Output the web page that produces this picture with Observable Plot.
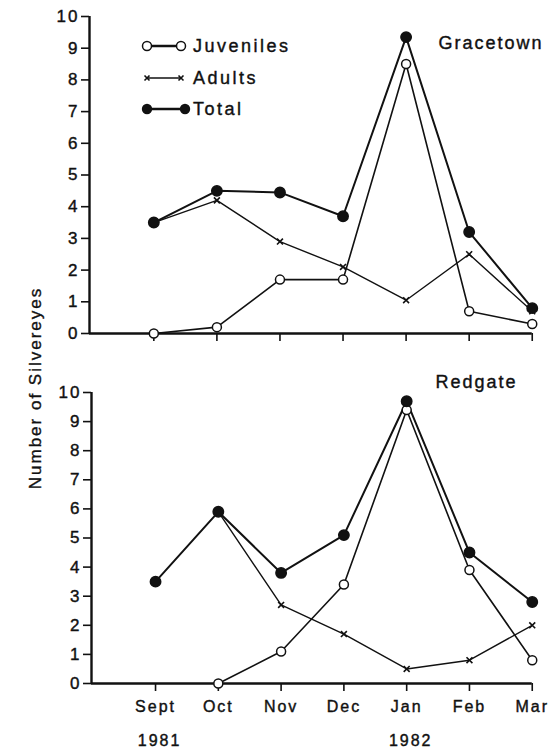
<!DOCTYPE html>
<html>
<head>
<meta charset="utf-8">
<script src="https://cdn.jsdelivr.net/npm/d3@7"></script>
<script src="https://cdn.jsdelivr.net/npm/@observablehq/plot@0.6"></script>
<style>
  html, body { margin: 0; padding: 0; background: #fff; }
  #wrap { position: relative; width: 548px; height: 751px; font-family: "Liberation Sans", Arial, Helvetica, sans-serif; }
  #wrap svg { display: block; }
  #wrap text { stroke: #111; stroke-width: 0.4px; }
  .ylab { position: absolute; left: 36px; top: 388px; transform: translate(-50%, -50%) rotate(-90deg);
          white-space: nowrap; font-size: 17px; letter-spacing: 2px; color: #111; -webkit-text-stroke: 0.35px #111; }
  #legend { position: absolute; left: 0; top: 0; }
</style>
</head>
<body>
<div id="wrap">
  <div id="topPanel"></div>
  <div id="bottomPanel"></div>
  <div class="ylab">Number of Silvereyes</div>
</div>
<script>
// ---- data ----
const months = ["Sept", "Oct", "Nov", "Dec", "Jan", "Feb", "Mar"];
const years = ["1981", "1982"];
const yearMonthIndex = [0, 4];
const gracetownJuveniles = [0, 0.2, 1.7, 1.7, 8.5, 0.7, 0.3];
const gracetownAdults    = [3.5, 4.2, 2.9, 2.1, 1.05, 2.5, 0.7];
const gracetownTotal     = [3.5, 4.5, 4.45, 3.7, 9.35, 3.2, 0.8];
const redgateJuveniles   = [null, 0, 1.1, 3.4, 9.4, 3.9, 0.8];
const redgateAdults      = [null, 5.9, 2.7, 1.7, 0.5, 0.8, 2.0];
const redgateTotal       = [3.5, 5.9, 3.8, 5.1, 9.7, 4.5, 2.8];
const seriesNames = ["Juveniles", "Adults", "Total"];
const yTicks = d3.range(0, 11);

const xMin = -1.02, xMax = 6.02;
const font = '"Liberation Sans", Arial, Helvetica, sans-serif';

function panel({juv, adu, tot, name, height, marginTop, marginBottom, marginLeft, labels, nameDx, nameDy}) {
  const rows = months.map((m, i) => ({i, m, juv: juv[i], adu: adu[i], tot: tot[i]}));
  const marks = [
    Plot.ruleX([xMin], {y1: 0, y2: 10, strokeWidth: 2.4, stroke: "#111"}),
    Plot.ruleY([0], {x1: xMin, x2: 6, strokeWidth: 2.4, stroke: "#111"}),
    Plot.axisY({ticks: yTicks, label: null, tickSize: 8, tickPadding: 2, strokeWidth: 1.6, stroke: "#111", fill: "#111", fontSize: 17}),
    Plot.axisX({ticks: d3.range(7), label: null, tickSize: 8, tickPadding: 9, strokeWidth: 1.6, stroke: "#111", fill: "#111", fontSize: 16,
                tickFormat: labels ? (i => months[i]) : (() => "")}),
    Plot.line(rows, {x: "i", y: "adu", stroke: "#111", strokeWidth: 1.4}),
    Plot.line(rows, {x: "i", y: "juv", stroke: "#111", strokeWidth: 1.6}),
    Plot.line(rows, {x: "i", y: "tot", stroke: "#111", strokeWidth: 2}),
    Plot.dot(rows, {x: "i", y: "adu", symbol: "times", r: 2.8, stroke: "#111", strokeWidth: 1.6}),
    Plot.dot(rows, {x: "i", y: "juv", r: 4.5, fill: "white", stroke: "#111", strokeWidth: 1.5}),
    Plot.dot(rows, {x: "i", y: "tot", r: 5.2, fill: "#111", stroke: "#111"}),
    Plot.text([name], {frameAnchor: "top-right", textAnchor: "end", lineAnchor: "middle", dx: nameDx, dy: nameDy, fontSize: 18, fill: "#111"})
  ];
  if (labels) {
    marks.push(Plot.text(years, {x: (d, k) => yearMonthIndex[k], text: d => d, frameAnchor: "bottom", dy: 57,
      dx: 4, fontSize: 16, fill: "#111", lineAnchor: "middle"}));
  }
  return Plot.plot({
    width: 548, height, marginTop, marginBottom, marginLeft, marginRight: 15,
    x: {domain: [xMin, xMax], axis: null},
    y: {domain: [0, 10], axis: null},
    style: {fontFamily: font, letterSpacing: "2px", color: "#111", background: "white", overflow: "visible"},
    marks
  });
}

const topChart = panel({juv: gracetownJuveniles, adu: gracetownAdults, tot: gracetownTotal, name: "Gracetown",
  height: 360, marginTop: 16, marginBottom: 27, marginLeft: 89, labels: false, nameDx: 10, nameDy: 27});
const bottomChart = panel({juv: redgateJuveniles, adu: redgateAdults, tot: redgateTotal, name: "Redgate",
  height: 391, marginTop: 32, marginBottom: 68, marginLeft: 91, labels: true, nameDx: -16, nameDy: -10});
document.getElementById("topPanel").appendChild(topChart);
document.getElementById("bottomPanel").appendChild(bottomChart);

// legend overlay inside the top panel
const ns = "http://www.w3.org/2000/svg";
const lg = document.createElementNS(ns, "svg");
lg.setAttribute("id", "legend");
lg.setAttribute("width", 300); lg.setAttribute("height", 130);
const rowsY = [46, 78, 109];
function el(tag, attrs) { const e = document.createElementNS(ns, tag); for (const k in attrs) e.setAttribute(k, attrs[k]); lg.appendChild(e); return e; }
seriesNames.forEach((s, k) => {
  const y = rowsY[k];
  const x1 = 147, x2 = k === 2 ? 185 : 181;
  el("line", {x1, x2, y1: y, y2: y, stroke: "#111", "stroke-width": k === 1 ? 1.4 : 2.4});
  if (k === 0) {
    [x1, x2].forEach(x => el("circle", {cx: x, cy: y, r: 4.5, fill: "white", stroke: "#111", "stroke-width": 1.5}));
  } else if (k === 1) {
    [x1, x2].forEach(x => el("path", {d: `M${x-2.5},${y-2.5}L${x+2.5},${y+2.5}M${x-2.5},${y+2.5}L${x+2.5},${y-2.5}`, stroke: "#111", "stroke-width": 1.6}));
  } else {
    [x1, x2].forEach(x => el("circle", {cx: x, cy: y, r: 5.2, fill: "#111"}));
  }
  const t = el("text", {x: 193, y, "dominant-baseline": "central", "font-size": 18, fill: "#111", "font-family": font, "letter-spacing": "2.5px"});
  t.textContent = s;
});
document.getElementById("wrap").appendChild(lg);
</script>
</body>
</html>
